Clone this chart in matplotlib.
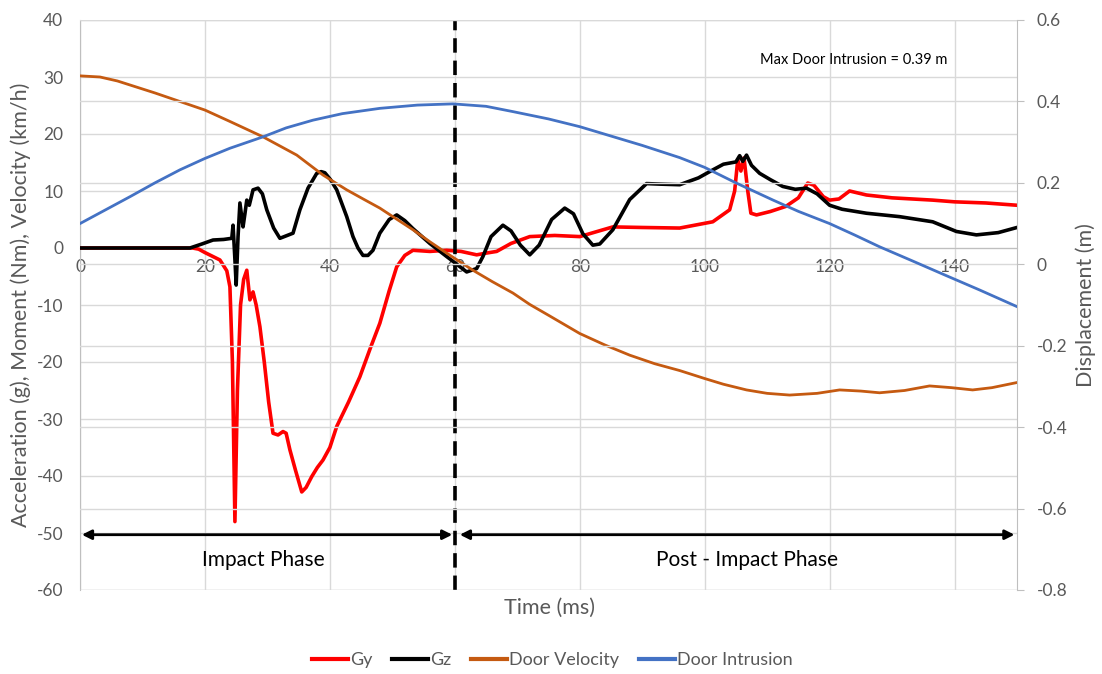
import matplotlib
matplotlib.use("Agg")
from matplotlib import pyplot as plt
from matplotlib.lines import Line2D
import numpy as np

plt.rcParams['font.family'] = ['Lato', 'DejaVu Sans']

# (time ms, value)
gy_pts = [(0, 0), (10, 0), (18, 0), (19, -0.2), (20, -0.8), (22.4, -2.1), (23.5, -4), (24, -6.8),
          (24.4, -20), (24.8, -48), (25.2, -25), (25.7, -10), (26.2, -5.5), (26.7, -3.9),
          (27.2, -9.1), (27.7, -7.7), (28.2, -10), (28.8, -13.8), (29.5, -20), (30.2, -27),
          (30.9, -32.5), (31.7, -32.8), (32.5, -32.2), (33.0, -32.5), (33.6, -35.4), (34.5, -39),
          (35.5, -42.8), (36.2, -42), (37.1, -40.1), (38.0, -38.5), (38.9, -37.2), (40.0, -35),
          (41.1, -31.3), (43.0, -27), (44.8, -22.6), (46.5, -17.5), (48.0, -13.2), (49.5, -7.5),
          (50.7, -3.3), (52.0, -1.3), (53.3, -0.4), (56.0, -0.6), (58.7, -0.4), (61.0, -0.6),
          (63.5, -1.2), (65.0, -0.9), (66.7, -0.6), (69.0, 0.8), (72.0, 2.0), (76.0, 2.2),
          (80.0, 2.0), (85.3, 3.7), (90.0, 3.6), (96.0, 3.5), (101.3, 4.6), (104.0, 6.7),
          (104.8, 10), (105.3, 15.5), (105.8, 13.5), (106.3, 15.8), (106.9, 10), (107.4, 6.1),
          (108.3, 5.8), (110.5, 6.4), (113.0, 7.3), (115.0, 8.8), (116.5, 11.4), (117.5, 11.0),
          (119.0, 9.0), (120.0, 8.4), (121.5, 8.6), (123.2, 10.0), (125.9, 9.3), (130.0, 8.8),
          (136.5, 8.4), (140.0, 8.1), (145.0, 7.9), (150.0, 7.5)]

gz_pts = [(0, 0), (10, 0), (17.6, 0), (19.5, 0.7), (21.3, 1.4), (23.0, 1.5), (24.3, 1.7),
          (24.5, 4), (24.8, -2), (25.0, -6.5), (25.3, 2), (25.6, 7.9), (26.1, 3.7), (26.4, 6),
          (26.7, 8.4), (27.1, 7.5), (27.7, 10.2), (28.5, 10.5), (29.2, 9.5), (29.9, 6.7),
          (31.0, 3.5), (32.0, 1.7), (34.1, 2.6), (35.2, 6.7), (36.5, 10.5), (37.9, 13.1),
          (38.6, 13.4), (39.2, 13.2), (40.1, 12), (41.1, 10.2), (42.7, 5.5), (43.7, 2.0),
          (44.5, 0), (45.3, -1.3), (46.1, -1.3), (46.9, -0.4), (48.0, 2.6), (49.5, 5.0),
          (50.7, 5.8), (52.0, 4.8), (53.3, 3.4), (56.0, 0.8), (58.7, -1.5), (60.5, -3.0),
          (61.9, -4.2), (63.5, -3.6), (64.5, -1.5), (65.8, 2.0), (67.7, 4.0), (69.0, 3.0),
          (70.5, 0.5), (72.0, -1.2), (73.5, 0.5), (75.5, 5.0), (77.6, 7.0), (79.0, 6.0),
          (80.5, 2.5), (82.1, 0.5), (83.2, 0.7), (85.3, 3.2), (88.0, 8.5), (90.7, 11.3),
          (93.0, 11.2), (96.0, 11.1), (99.0, 12.3), (101.3, 13.7), (103.0, 14.7), (105.0, 15.1),
          (105.6, 16.2), (106.1, 15.2), (106.7, 16.3), (107.5, 14.5), (108.8, 13.1),
          (110.5, 12.0), (112.5, 10.8), (114.5, 10.3), (116.3, 10.5), (118.0, 9.5), (120.0, 7.5),
          (122.0, 6.8), (125.9, 6.1), (131.2, 5.5), (136.5, 4.6), (140.3, 2.9), (143.5, 2.3),
          (147.0, 2.7), (150.0, 3.6)]

vel_pts = [(0, 30.2), (3.2, 30.0), (6, 29.3), (8, 28.6), (12, 27.2), (16, 25.7), (20, 24.2),
           (24, 22.2), (29.3, 19.5), (34.7, 16.3), (38.9, 12.8), (42.7, 10.2), (45.5, 8.5),
           (48, 7.0), (50.5, 5.2), (53.3, 3.2), (56, 1.1), (58.7, -0.9), (62.9, -3.9),
           (66, -5.9), (69.3, -7.9), (72, -9.9), (75, -11.8), (80, -15.0), (84, -17.0),
           (88, -18.8), (92, -20.3), (96, -21.5), (100, -22.9), (103, -23.9), (106.7, -24.9),
           (110, -25.5), (113.6, -25.8), (118, -25.5), (121.6, -24.9), (125, -25.1),
           (128, -25.4), (132, -25.0), (136, -24.2), (139.5, -24.5), (142.9, -24.9),
           (146, -24.5), (150, -23.6)]

intr_pts = [(0, 0.100), (4, 0.133), (8, 0.166), (12, 0.200), (16, 0.232), (20, 0.260),
            (24, 0.285), (29.3, 0.313), (33, 0.335), (37.3, 0.354), (42, 0.370), (48, 0.383),
            (54, 0.391), (59.7, 0.394), (65, 0.388), (69.3, 0.375), (75, 0.357), (80, 0.338),
            (85, 0.315), (90, 0.292), (96, 0.262), (100, 0.238), (105, 0.200), (110.9, 0.158),
            (115, 0.130), (120, 0.100), (124, 0.072), (128, 0.043), (133, 0.010),
            (138.7, -0.028), (144, -0.063), (150, -0.104)]

gy_t, gy = np.array(gy_pts).T
gz_t, gz = np.array(gz_pts).T
vel_t, vel = np.array(vel_pts).T
intr_t, intr = np.array(intr_pts).T

left_ticks = np.arange(-60, 41, 10)
right_ticks = [-0.8, -0.6, -0.4, -0.2, 0, 0.2, 0.4, 0.6]
right_labels = ["-0.8", "-0.6", "-0.4", "-0.2", "0", "0.2", "0.4", "0.6"]
x_ticks = [0, 20, 40, 60, 80, 100, 120, 140]

txt = '#595959'
grid_c = '#d9d9d9'

fig = plt.figure(figsize=(11.02, 6.74), dpi=100)
ax = fig.add_axes([80 / 1102, 1 - 590 / 674, (1017 - 80) / 1102, 570 / 674])
ax2 = ax.twinx()

ax.set_xlim(0, 150)
ax.set_ylim(-60, 40)
ax2.set_ylim(-0.8, 0.6)

# gridlines for both axes (Excel shows both sets)
for v in left_ticks:
    ax.axhline(v, color=grid_c, lw=1, zorder=0)
for v in right_ticks:
    ax2.axhline(v, color=grid_c, lw=1, zorder=0)
for t in x_ticks:
    ax.axvline(t, color=grid_c, lw=1, zorder=0)

ax.plot(gy_t, gy, color='#ff0000', lw=2.6, label='Gy', zorder=3)
ax.plot(gz_t, gz, color='black', lw=2.6, label='Gz', zorder=3)
ax.plot(vel_t, vel, color='#c55a11', lw=2.0, label='Door Velocity', zorder=4)
ax2.plot(intr_t, intr, color='#4472c4', lw=2.0, label='Door Intrusion', zorder=4)

ax.axvline(60, color='black', lw=2.6, ls=(0, (4, 2.2)), zorder=5)

arrow = dict(arrowstyle='<|-|>', color='black', lw=2, mutation_scale=14, shrinkA=0, shrinkB=0)
ax.annotate('', xy=(0.3, -50.3), xytext=(59.6, -50.3), arrowprops=arrow, zorder=6)
ax.annotate('', xy=(60.8, -50.3), xytext=(149.6, -50.3), arrowprops=arrow, zorder=6)
ax.text(29.3, -54.8, 'Impact Phase', ha='center', va='center', fontsize=15, color='black')
ax.text(106.8, -54.8, 'Post - Impact Phase', ha='center', va='center', fontsize=15, color='black')
ax.text(108.8, 33, 'Max Door Intrusion = 0.39 m', ha='left', va='center', fontsize=10.5,
        color='black')

# axes styling
ax.set_yticks(left_ticks)
ax.set_yticklabels([str(v) for v in left_ticks])
ax.set_xticks(x_ticks)
ax.spines['bottom'].set_position(('data', 0))
ax.spines['bottom'].set_color('#bfbfbf')
ax.spines['left'].set_color('#bfbfbf')
ax.spines['top'].set_visible(False)
ax.spines['right'].set_visible(False)
ax.tick_params(axis='x', length=0, pad=8, labelsize=12.5, labelcolor=txt)
ax.tick_params(axis='y', length=0, pad=12, labelsize=12.5, labelcolor=txt)

ax2.set_yticks(right_ticks)
ax2.set_yticklabels(right_labels)
for s in ['top', 'left', 'bottom']:
    ax2.spines[s].set_visible(False)
ax2.spines['right'].set_color('#bfbfbf')
ax2.tick_params(axis='y', length=5, color='#bfbfbf', pad=9, labelsize=12.5, labelcolor=txt)

ax.set_ylabel('Acceleration (g), Moment (Nm), Velocity (km/h)', fontsize=15.5, color=txt,
              labelpad=4)
ax2.set_ylabel('Displacement (m)', fontsize=15.5, color=txt, labelpad=6)
fig.text(549 / 1102, 1 - 608 / 674, 'Time (ms)', ha='center', va='center', fontsize=15.5,
         color=txt)

handles = [Line2D([], [], color='#ff0000', lw=3), Line2D([], [], color='black', lw=3),
           Line2D([], [], color='#c55a11', lw=3), Line2D([], [], color='#4472c4', lw=3)]
fig.legend(handles, ['Gy', 'Gz', 'Door Velocity', 'Door Intrusion'], loc='center',
           bbox_to_anchor=(552 / 1102, 1 - 660 / 674), ncol=4, frameon=False, fontsize=13,
           labelcolor=txt, handlelength=2.0, handletextpad=0.1, columnspacing=1.1)

fig.savefig('out.png', dpi=100)
